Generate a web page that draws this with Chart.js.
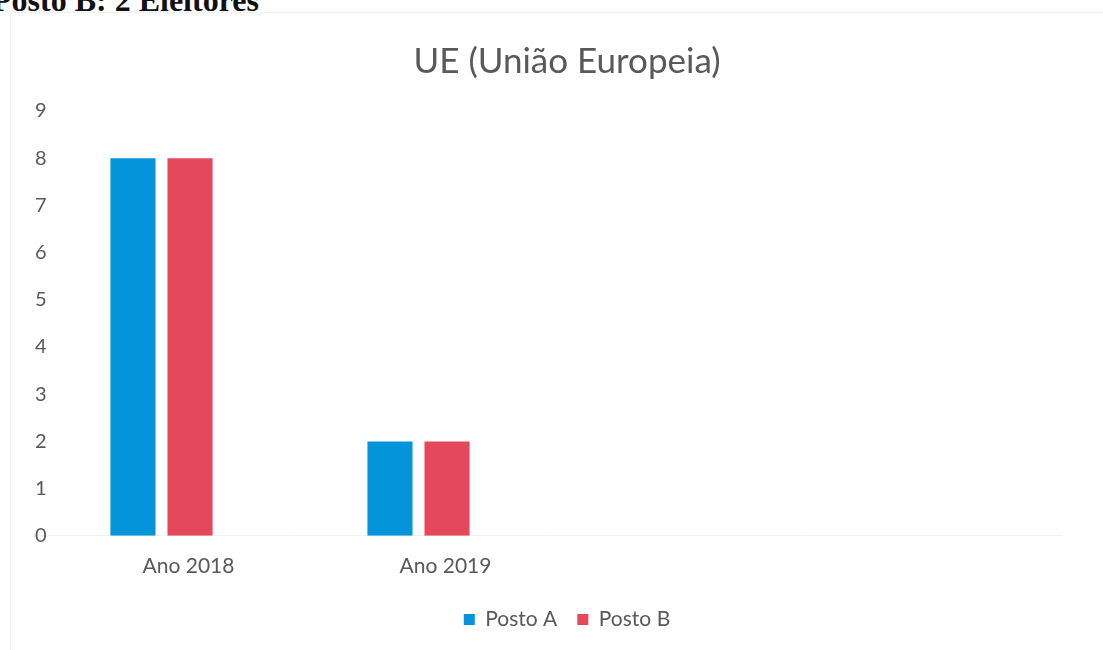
<!DOCTYPE html>
<html>
<head>
<meta charset="utf-8">
<script src="https://cdn.jsdelivr.net/npm/chart.js@4.4.0/dist/chart.umd.min.js"></script>
<style>
  html, body { margin: 0; padding: 0; background: #fff; overflow: hidden; }
  #wrap { position: relative; width: 1103px; height: 650px; }
  #frame { position: absolute; left: 10px; top: 12px; width: 1100px; height: 640px; border: 1px solid #f0f0f0; }
  #note { position: absolute; left: -8px; top: -18px; font: bold 32px "Liberation Serif", serif; color: #111; white-space: nowrap; }
  canvas { position: absolute; left: 0; top: 0; }
</style>
</head>
<body>
<div id="wrap">
  <div id="frame"></div>
  <div id="note">Posto B: 2 Eleitores</div>
  <canvas id="ueChart" width="1103" height="650"></canvas>
</div>
<script>
var categories = ['Ano 2018', 'Ano 2019', '', ''];
var postoA = [8, 2, null, null];
var postoB = [8, 2, null, null];
var yTicks = [0, 1, 2, 3, 4, 5, 6, 7, 8, 9];

var ctx = document.getElementById('ueChart').getContext('2d');
var textColor = '#595959';
var font = 'Lato, "Open Sans", sans-serif';

var chart = new Chart(ctx, {
    type: 'bar',
    data: {
        labels: categories,
        datasets: [{
            label: 'Posto A',
            backgroundColor: 'rgb(4,148,218)',
            borderWidth: 0,
            data: postoA
        }, {
            label: 'Posto B',
            backgroundColor: 'rgb(229,72,90)',
            borderWidth: 0,
            data: postoB
        }]
    },
    options: {
        responsive: false,
        animation: false,
        categoryPercentage: 0.444,
        barPercentage: 0.79,
        layout: { padding: { left: 33, right: 2, top: 41, bottom: 10 } },
        plugins: {
            title: {
                display: true,
                text: 'UE (União Europeia)',
                color: textColor,
                font: { family: font, size: 35, weight: 'normal' },
                padding: { top: 0, bottom: 28 }
            },
            legend: {
                position: 'bottom',
                labels: {
                    color: textColor,
                    font: { family: font, size: 21 },
                    boxWidth: 11,
                    boxHeight: 11,
                    padding: 20
                }
            },
            tooltip: { enabled: false }
        },
        scales: {
            x: {
                grid: { display: false },
                border: { color: '#f2f2f2' },
                ticks: { color: textColor, font: { family: font, size: 21 }, padding: 10, labelOffset: 27 }
            },
            y: {
                min: 0,
                max: 9,
                afterBuildTicks: function (axis) { axis.ticks = yTicks.map(function (v) { return { value: v }; }); },
                afterFit: function (axis) { axis.width = 0; },
                grid: { display: false },
                border: { display: false },
                ticks: { mirror: true, color: textColor, font: { family: font, size: 20 }, padding: 2 }
            },
            yRight: {
                position: 'right',
                afterFit: function (axis) { axis.width = 40; },
                grid: { display: false },
                border: { display: false },
                ticks: { display: false }
            }
        }
    }
});
</script>
</body>
</html>
